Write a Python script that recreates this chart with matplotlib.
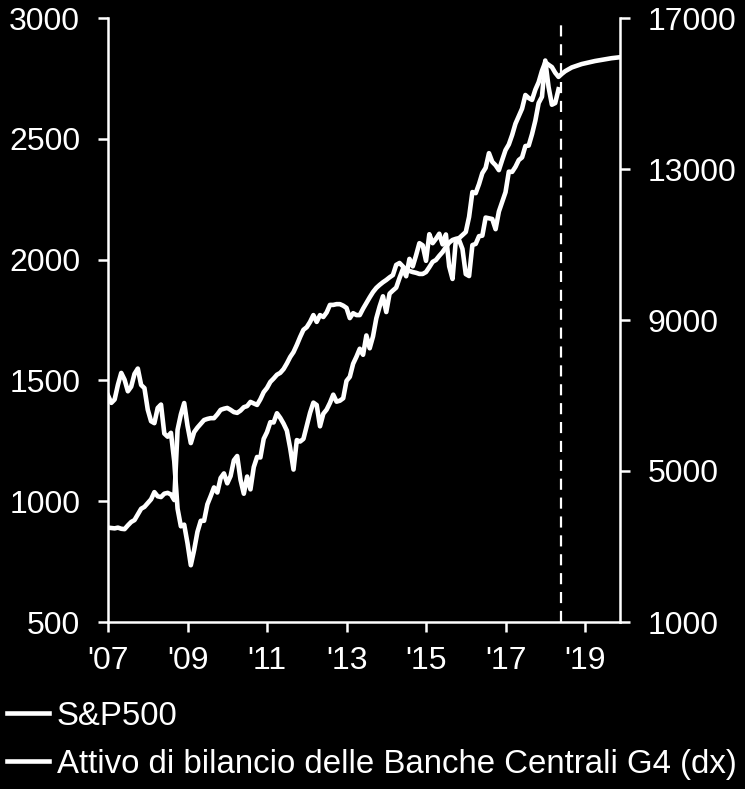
import numpy as np
import matplotlib
matplotlib.use('Agg')
import matplotlib.pyplot as plt

plt.rcParams['font.family'] = ['Liberation Sans', 'DejaVu Sans']

# monthly closes of the S&P500, Jan 2007 - May 2018 (left axis)
sp500 = [
    1438, 1407, 1421, 1482, 1531, 1503, 1455, 1474, 1527, 1549, 1481, 1468,
    1379, 1331, 1323, 1386, 1400, 1280, 1267, 1283, 1165, 969, 896, 903,
    826, 735, 798, 873, 919, 919, 987, 1021, 1057, 1036, 1096, 1115,
    1074, 1104, 1169, 1187, 1089, 1031, 1102, 1049, 1141, 1183, 1181, 1258,
    1286, 1327, 1326, 1364, 1345, 1321, 1292, 1219, 1131, 1253, 1247, 1258,
    1312, 1366, 1408, 1398, 1310, 1362, 1379, 1407, 1441, 1412, 1416, 1426,
    1498, 1515, 1569, 1598, 1631, 1606, 1686, 1633, 1682, 1757, 1806, 1848,
    1783, 1859, 1872, 1884, 1924, 1960, 1931, 2003, 1972, 2018, 2068, 2059,
    1995, 2105, 2068, 2086, 2107, 2063, 2104, 1972, 1920, 2079, 2080, 2044,
    1940, 1932, 2060, 2065, 2097, 2099, 2174, 2171, 2168, 2126, 2199, 2239,
    2279, 2364, 2363, 2384, 2412, 2423, 2470, 2472, 2519, 2575, 2648, 2674,
    2824, 2714, 2641, 2648, 2705,
]

# G4 central bank balance sheet assets, Jan 2007 - Dec 2019 (right axis)
cb_assets = [
    3500, 3490, 3480, 3500, 3470, 3460, 3560, 3650, 3700, 3850, 4000, 4050,
    4150, 4250, 4440, 4330, 4310, 4400, 4420, 4380, 4230, 6090, 6500, 6800,
    6200, 5740, 6030, 6150, 6250, 6350, 6380, 6400, 6400, 6500, 6620, 6650,
    6670, 6620, 6560, 6540, 6600, 6690, 6720, 6830, 6790, 6750, 6900, 7090,
    7200, 7360, 7450, 7550, 7600, 7700, 7850, 8020, 8150, 8340, 8550, 8740,
    8810, 8950, 9130, 8950, 9130, 9080, 9200, 9400, 9400, 9420, 9420, 9380,
    9320, 9050, 9180, 9130, 9130, 9300, 9450, 9600, 9740, 9850, 9930, 10000,
    10060, 10130, 10190, 10460, 10510, 10420, 10330, 10300, 10270, 10250, 10220, 10220,
    10270, 10400, 10540, 10590, 10700, 10800, 10930, 11050, 11120, 11150, 11170, 11250,
    11330, 11730, 12390, 12360, 12600, 12890, 13030, 13420, 13190, 13100, 12970, 13240,
    13500, 13650, 13900, 14200, 14400, 14600, 14960, 14880, 14830, 15100, 15300, 15600,
    15830, 15760, 15700, 15550, 15440, 15520, 15590, 15640, 15690, 15720, 15750, 15780,
    15800, 15820, 15840, 15860, 15875, 15890, 15905, 15920, 15935, 15945, 15955, 15965,
]

x_ticks = [2007, 2009, 2011, 2013, 2015, 2017, 2019]
x_labels = ["'07", "'09", "'11", "'13", "'15", "'17", "'19"]
left_ticks = [500, 1000, 1500, 2000, 2500, 3000]
right_ticks = [1000, 5000, 9000, 13000, 17000]
forecast_start = 2018.4

labels = ['S&P500', 'Attivo di bilancio delle Banche Centrali G4 (dx)']

t_sp = 2007 + np.arange(len(sp500)) / 12
t_cb = 2007 + np.arange(len(cb_assets)) / 12

fig = plt.figure(figsize=(7.45, 7.89), dpi=100, facecolor='black')
ax = fig.add_axes([108 / 745, 1 - 622 / 789, 512 / 745, 604 / 789])
ax.set_facecolor('black')
ax2 = ax.twinx()

l1, = ax.plot(t_sp, sp500, color='white', lw=3.3, solid_joinstyle='round')
l2, = ax2.plot(t_cb, cb_assets, color='white', lw=3.3, solid_joinstyle='round')
ax.axvline(forecast_start, color='white', lw=1.6, ls=(0, (5, 3.5)))

ax.set_xlim(2007, 2019.88)
ax.set_ylim(500, 3000)
ax2.set_ylim(1000, 17000)
ax.set_xticks(x_ticks)
ax.set_xticklabels(x_labels)
ax.set_yticks(left_ticks)
ax2.set_yticks(right_ticks)

for a in (ax, ax2):
    for s in a.spines.values():
        s.set_visible(False)
ax.spines['left'].set_visible(True)
ax.spines['bottom'].set_visible(True)
ax2.spines['right'].set_visible(True)
for s in (ax.spines['left'], ax.spines['bottom'], ax2.spines['right']):
    s.set_color('white')
    s.set_linewidth(1.8)

ax.tick_params(axis='x', direction='out', length=7, width=1.8, colors='white',
               labelsize=23, pad=10)
ax.tick_params(axis='y', direction='out', length=7, width=1.8, colors='white',
               labelsize=23, pad=13)
ax2.tick_params(axis='y', direction='out', length=7, width=1.8, colors='white',
                labelsize=23, pad=13)

fig.legend([l1, l2], labels, loc='upper left', bbox_to_anchor=(0.01, 0.112),
           frameon=False, fontsize=23.8, handlelength=1.25, handletextpad=0.25,
           labelspacing=0.52, borderpad=0, borderaxespad=0, labelcolor='white')

fig.savefig('out.png', dpi=100, facecolor='black')
